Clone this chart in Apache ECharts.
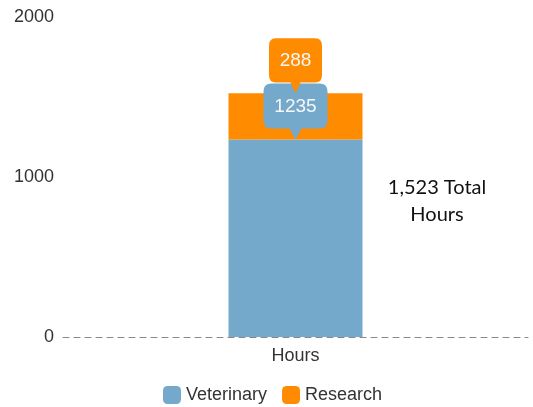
<!DOCTYPE html>
<html>
<head>
<meta charset="utf-8">
<script src="https://cdn.jsdelivr.net/npm/echarts@6/dist/echarts.min.js"></script>
<style>html,body{margin:0;padding:0;background:#fff}#c{width:533px;height:407px}</style>
</head>
<body>
<div id="c"></div>
<script>
var categories = ['Hours'];
var veterinary = [1235];
var research = [288];
var yTicks = [0, 1000, 2000];
var totalText = '1,523 Total\nHours';

var FF = '"Liberation Sans", Arial, sans-serif';
var bubble = 'path://M8,0 H56 Q64,0 64,8 V37 Q64,45 56,45 H38 L32,56 L26,45 H8 Q0,45 0,37 V8 Q0,0 8,0 Z';
var blue = '#74a9cb', orange = '#ff8b00';

var chart = echarts.init(document.getElementById('c'), null, {renderer: 'canvas'});
chart.setOption({
  animation: false,
  textStyle: {fontFamily: FF},
  grid: {left: 63, right: 5, top: 17, bottom: 70},
  legend: {
    bottom: 3, left: 163, padding: 0, itemWidth: 18, itemHeight: 18, itemGap: 15,
    icon: 'roundRect',
    textStyle: {fontFamily: FF, fontSize: 18, color: '#333'},
    data: ['Veterinary', 'Research']
  },
  xAxis: {
    type: 'category', data: categories,
    axisLine: {show: true, lineStyle: {color: '#888', type: [6, 5], width: 1}},
    axisTick: {show: false},
    axisLabel: {fontFamily: FF, fontSize: 18, color: '#333', margin: 10}
  },
  yAxis: {
    type: 'value', min: yTicks[0], max: yTicks[yTicks.length - 1], interval: 1000,
    splitLine: {show: false}, axisLine: {show: false}, axisTick: {show: false},
    axisLabel: {fontFamily: FF, fontSize: 18, color: '#333', margin: 9,
      formatter: function (v) { return String(v); }}
  },
  series: [
    {
      name: 'Veterinary', type: 'bar', stack: 'a', data: veterinary, barWidth: 134,
      itemStyle: {color: blue},
      markPoint: {
        data: [{coord: [0, veterinary[0]], value: veterinary[0]}],
        symbol: bubble, symbolSize: [64, 56], symbolKeepAspect: false,
        symbolOffset: [0, '-50%'],
        itemStyle: {color: blue},
        label: {show: true, position: 'inside', offset: [0, -5], color: '#f7f7f7',
          fontFamily: FF, fontSize: 19, formatter: '{c}'}
      }
    },
    {
      name: 'Research', type: 'bar', stack: 'a', data: research, barWidth: 134,
      itemStyle: {color: orange},
      markPoint: {
        data: [{coord: [0, veterinary[0] + research[0]], value: research[0]}],
        symbol: bubble, symbolSize: [53, 55], symbolKeepAspect: false,
        symbolOffset: [0, '-50%'],
        itemStyle: {color: orange},
        label: {show: true, position: 'inside', offset: [0, -5], color: '#f7f7f7',
          fontFamily: FF, fontSize: 19, formatter: '{c}'}
      }
    }
  ],
  graphic: [{
    type: 'text', x: 437, y: 174,
    style: {text: totalText, fontFamily: 'Lato, Carlito, sans-serif', fontSize: 20,
      lineHeight: 27, fill: '#111', align: 'center', textAlign: 'center'}
  }]
});
</script>
</body>
</html>
